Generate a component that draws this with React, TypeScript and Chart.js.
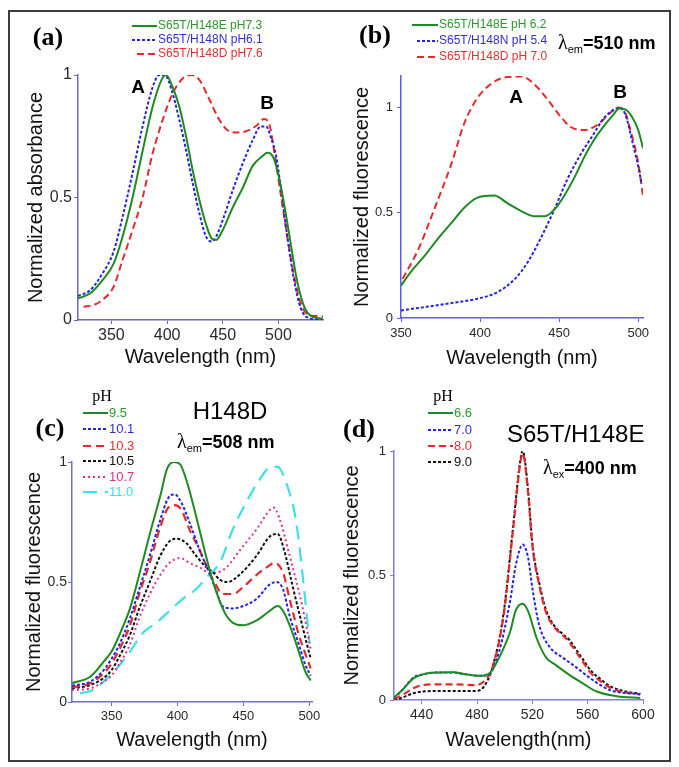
import React, { useEffect, useRef } from "react";
import { Chart, registerables } from "chart.js";
Chart.register(...registerables);

// ---------------- data ----------------
// (a) normalized absorbance
const aX_E = [320,331,342,352,360,369,378,387,395,399,405,411,417,423,429,435,440,444,450,459,468,477,486,490,495,499,504,510,516,522,528,537,540];
const aY_E = [.088,.109,.163,.23,.34,.50,.69,.87,.98,1.0,.95,.87,.75,.61,.49,.39,.333,.327,.367,.46,.54,.63,.67,.683,.667,.61,.50,.34,.177,.068,.02,.007,.005];
const aX_N = [320,331,342,352,360,369,378,387,393,398,404,411,417,423,429,435,440,444,450,459,468,477,484,489,493,498,502,508,514,520,528,540];
const aY_N = [.098,.122,.19,.28,.42,.60,.79,.95,1.0,1.0,.94,.816,.694,.558,.435,.34,.32,.34,.408,.53,.64,.735,.79,.79,.748,.667,.544,.34,.163,.048,.007,0];
const aX_D = [325,334,342,352,360,369,378,387,396,405,414,422,429,438,447,456,465,474,481,487,492,496,501,507,513,519,525,534,540];
const aY_D = [.054,.061,.082,.136,.245,.367,.50,.68,.816,.925,.986,1.0,.98,.90,.816,.77,.765,.776,.796,.82,.796,.694,.544,.367,.204,.082,.027,.016,.014];

// (b) normalized fluorescence, lambda_em = 510 nm
const bX_E = [350,356,365,373,382,390,398,409,417,426,434,441,447,453,460,466,472,478,484,488,492,496,500,503];
const bY_E = [.154,.217,.296,.374,.453,.524,.571,.582,.547,.508,.484,.484,.516,.579,.673,.767,.846,.909,.964,.995,.99,.956,.893,.807];
const bX_N = [350,365,382,398,411,422,430,438,447,455,464,472,478,484,488,492,496,500,502];
const bY_N = [.036,.052,.071,.091,.123,.186,.264,.374,.516,.657,.783,.877,.948,.987,1.0,.964,.846,.72,.64];
const bX_D = [351,361,371,382,390,398,407,415,426,434,443,451,457,466,474,482,487,491,495,500,503];
const bY_D = [.186,.327,.516,.736,.925,1.042,1.113,1.142,1.148,1.113,1.035,.956,.909,.893,.917,.972,1.0,.987,.893,.736,.579];

// (c) H148D, pH series
const cX_95 = [320,334,344,350,356,364,371,379,387,392,397,402,407,412,417,422,427,432,437,442,450,460,470,476,480,485,492,497,501];
const cY_95 = [.078,.106,.168,.21,.28,.39,.53,.70,.86,.97,1.0,.99,.92,.82,.71,.60,.50,.42,.36,.33,.32,.34,.38,.40,.38,.32,.21,.126,.09];
const cX_101 = [320,334,344,350,356,364,371,379,387,393,398,403,409,417,424,429,434,442,450,460,470,475,480,485,492,497,501];
const cY_101 = [.068,.085,.133,.18,.24,.35,.47,.61,.76,.85,.865,.83,.75,.63,.54,.47,.40,.39,.40,.43,.49,.50,.47,.36,.24,.155,.11];
const cX_103 = [320,334,344,350,356,364,371,379,387,393,398,403,409,417,424,429,434,442,450,460,470,473,480,485,492,497,501];
const cY_103 = [.061,.078,.12,.16,.22,.32,.45,.58,.73,.81,.82,.80,.72,.63,.54,.49,.45,.45,.48,.53,.57,.58,.54,.43,.28,.20,.14];
const cX_105 = [320,334,344,350,356,364,371,379,387,394,400,407,414,422,427,432,438,447,460,470,476,481,487,495,501];
const cY_105 = [.057,.071,.10,.133,.19,.28,.39,.50,.61,.67,.68,.66,.61,.56,.54,.51,.50,.53,.61,.69,.70,.63,.49,.31,.18];
const cX_107 = [320,334,344,350,356,364,371,379,387,394,402,409,417,424,429,437,447,460,470,473,477,485,495,501];
const cY_107 = [.05,.057,.085,.11,.16,.24,.35,.45,.53,.58,.60,.58,.56,.54,.54,.56,.63,.72,.80,.81,.77,.61,.39,.22];
const cX_110 = [326,336,344,354,364,374,384,394,404,414,424,432,442,452,462,471,476,482,490,496,500];
const cY_110 = [.036,.05,.085,.14,.21,.29,.33,.38,.43,.47,.53,.58,.72,.83,.925,.98,.98,.92,.75,.47,.25];

// (d) S65T/H148E emission, lambda_ex = 400 nm
const dX_66 = [420,426,434,441,450,463,472,482,489,496,504,508,513,517,523,530,537,547,557,566,581,598];
const dY_66 = [.01,.04,.087,.103,.11,.111,.103,.097,.107,.17,.275,.36,.387,.356,.25,.17,.14,.10,.065,.035,.015,.008];
const dX_70 = [420,426,434,441,450,463,472,482,489,496,504,508,513,517,520,525,533,542,552,562,576,598];
const dY_70 = [.007,.04,.09,.103,.11,.11,.103,.097,.105,.195,.40,.54,.624,.57,.45,.30,.21,.17,.13,.087,.04,.023];
const dX_80 = [420,426,434,441,453,465,479,485,491,499,506,511,513,517,520,525,530,537,542,547,552,557,562,569,576,586,598];
const dY_80 = [.003,.02,.047,.06,.063,.063,.06,.074,.128,.33,.68,.94,.99,.825,.62,.46,.35,.285,.26,.23,.19,.15,.11,.077,.05,.032,.022];
const dX_90 = [420,426,434,441,453,465,479,485,491,499,506,511,513,517,520,525,530,537,542,547,552,557,562,569,576,586,598];
const dY_90 = [0,.01,.027,.034,.036,.036,.036,.054,.128,.34,.69,.95,1.0,.84,.63,.47,.36,.29,.265,.24,.20,.16,.12,.085,.056,.036,.025];

// tick labels
const abcXTicks = [350, 400, 450, 500];
const dXTicks = [440, 480, 520, 560, 600];
const yTicks = [0, 0.5, 1];

// legend labels
const aLabels = ["S65T/H148E pH7.3", "S65T/H148N pH6.1", "S65T/H148D pH7.6"];
const bLabels = ["S65T/H148E pH 6.2", "S65T/H148N pH 5.4", "S65T/H148D pH 7.0"];
const cLabels = ["9.5", "10.1", "10.3", "10.5", "10.7", "11.0"];
const dLabels = ["6.6", "7.0", "8.0", "9.0"];

// ---------------- styles ----------------
const SANS = '"Liberation Sans", Arial, Helvetica, sans-serif';
const SERIF = '"Liberation Serif", "Times New Roman", serif';
const GREEN = "#1e8a22";
const BLUE = "#2424dc";
const RED = "#e52a2e";
const BLACK = "#111111";
const MAGENTA = "#de2f8e";
const CYAN = "#3fe0e4";

type Panel = { left: number; top: number; width: number; height: number; L: number; T: number; R: number; B: number };
const PA: Panel = { left: 24, top: 12, width: 316, height: 357, L: 78, T: 75, R: 323, B: 320 };
const PB: Panel = { left: 350, top: 12, width: 318, height: 358, L: 401, T: 76, R: 643, B: 318 };
const PC: Panel = { left: 22, top: 388, width: 318, height: 364, L: 72, T: 462, R: 312, B: 702 };
const PD: Panel = { left: 340, top: 388, width: 328, height: 364, L: 394, T: 451, R: 643, B: 700 };

const pts = (xs: number[], ys: number[]) => xs.map((x, i) => ({ x, y: ys[i] }));

function ds(label: string, xs: number[], ys: number[], color: string, dash: number[], width = 2) {
  return {
    label,
    data: pts(xs, ys),
    borderColor: color,
    borderDash: dash,
    borderWidth: width,
    pointRadius: 0,
    fill: false,
    cubicInterpolationMode: "monotone" as const,
  };
}

function scale(o: {
  horizontal: boolean; size: number; min: number; max: number; ticks: number[];
  tickFont: number; tickPad: number; color: string; title: string;
}) {
  return {
    type: "linear" as const,
    min: o.min,
    max: o.max,
    afterBuildTicks: (s: any) => { s.ticks = o.ticks.map((v) => ({ value: v })); },
    afterFit: (s: any) => { if (o.horizontal) s.height = o.size; else s.width = o.size; },
    grid: { drawOnChartArea: false, drawTicks: true, tickLength: 4, color: o.color, lineWidth: 1 },
    border: { display: true, color: o.color, width: 1.5 },
    ticks: {
      font: { family: SANS, size: o.tickFont },
      color: "#2a2a2a",
      padding: o.tickPad,
      autoSkip: false,
      maxRotation: 0,
      callback: (v: any) => String(v),
    },
    title: { display: true, text: o.title, font: { family: SANS, size: 20 }, color: "#111", padding: 0 },
  };
}

function txt(ctx: CanvasRenderingContext2D, s: string, x: number, y: number, font: string, color: string, align: CanvasTextAlign = "left") {
  ctx.font = font;
  ctx.fillStyle = color;
  ctx.textAlign = align;
  ctx.textBaseline = "middle";
  ctx.fillText(s, x, y);
}

function legendRow(ctx: CanvasRenderingContext2D, d: any, x1: number, x2: number, y: number, label: string, color: string, size: number) {
  ctx.save();
  ctx.strokeStyle = d.borderColor;
  ctx.lineWidth = d.borderWidth;
  ctx.setLineDash(d.borderDash);
  ctx.beginPath();
  ctx.moveTo(x1, y);
  ctx.lineTo(x2, y);
  ctx.stroke();
  ctx.restore();
  txt(ctx, label, x2 + 1, y, `${size}px ${SANS}`, color);
}

function lambda(ctx: CanvasRenderingContext2D, x: number, y: number, sub: string, rest: string) {
  txt(ctx, "λ", x, y, `20px ${SERIF}`, "#000");
  const w1 = ctx.measureText("λ").width;
  txt(ctx, sub, x + w1, y + 6, `11px ${SANS}`, "#000");
  const w2 = ctx.measureText(sub).width;
  txt(ctx, rest, x + w1 + w2, y, `bold 18px ${SANS}`, "#000");
}

function build(canvas: HTMLCanvasElement, p: Panel, datasets: any[], xs: any, ys: any, draw: (ctx: CanvasRenderingContext2D) => void) {
  const bottom = p.top + p.height;
  return new Chart(canvas, {
    type: "line",
    data: { datasets },
    options: {
      responsive: false,
      animation: false,
      parsing: false as any,
      layout: { padding: { left: 0, bottom: 0, top: p.T - p.top, right: p.left + p.width - p.R } },
      plugins: { legend: { display: false }, tooltip: { enabled: false }, title: { display: false } },
      scales: {
        x: scale({ ...xs, horizontal: true, size: bottom - p.B }),
        y: scale({ ...ys, horizontal: false, size: p.L - p.left }),
      },
    },
    plugins: [
      {
        id: "annot",
        afterDraw: (chart: any) => {
          const ctx = chart.ctx as CanvasRenderingContext2D;
          ctx.save();
          ctx.translate(-p.left, -p.top);
          draw(ctx);
          ctx.restore();
        },
      },
    ],
  } as any);
}

function chartA(canvas: HTMLCanvasElement) {
  const d = [
    ds(aLabels[0], aX_E, aY_E, GREEN, [], 2),
    ds(aLabels[1], aX_N, aY_N, BLUE, [3, 2], 2),
    ds(aLabels[2], aX_D, aY_D, RED, [7, 4], 2),
  ];
  const axisColor = "#6a6ab8";
  return build(canvas, PA, d,
    { min: 320, max: 540, ticks: abcXTicks, tickFont: 16, tickPad: 2, color: axisColor, title: "Wavelength (nm)" },
    { min: 0, max: 1, ticks: yTicks, tickFont: 16, tickPad: 2, color: axisColor, title: "Normalized absorbance" },
    (ctx) => {
      txt(ctx, "(a)", 48, 38, `bold 26px ${SERIF}`, "#000", "center");
      legendRow(ctx, d[0], 132, 157, 26, aLabels[0], "#2a9a2a", 12);
      legendRow(ctx, d[1], 132, 157, 40, aLabels[1], "#3030d0", 12);
      legendRow(ctx, d[2], 137, 157, 54, aLabels[2], "#e03030", 12);
      txt(ctx, "A", 138, 88, `bold 19px ${SANS}`, "#000", "center");
      txt(ctx, "B", 267, 104, `bold 19px ${SANS}`, "#000", "center");
    });
}

function chartB(canvas: HTMLCanvasElement) {
  const d = [
    ds(bLabels[0], bX_E, bY_E, GREEN, [], 2),
    ds(bLabels[1], bX_N, bY_N, BLUE, [3, 2], 2),
    ds(bLabels[2], bX_D, bY_D, RED, [7, 4], 2),
  ];
  const axisColor = "#5d5de6";
  return build(canvas, PB, d,
    { min: 350, max: 503, ticks: abcXTicks, tickFont: 13, tickPad: 4, color: axisColor, title: "Wavelength (nm)" },
    { min: 0, max: 1.15, ticks: yTicks, tickFont: 13, tickPad: 4, color: axisColor, title: "Normalized fluorescence" },
    (ctx) => {
      txt(ctx, "(b)", 375, 36, `bold 26px ${SERIF}`, "#000", "center");
      legendRow(ctx, d[0], 412, 438, 25, bLabels[0], "#2a9a2a", 12);
      legendRow(ctx, d[1], 417, 438, 41, bLabels[1], "#3030d0", 12);
      legendRow(ctx, d[2], 417, 438, 57, bLabels[2], "#e03030", 12);
      lambda(ctx, 558, 44, "em", "=510 nm");
      txt(ctx, "A", 516, 98, `bold 19px ${SANS}`, "#000", "center");
      txt(ctx, "B", 620, 93, `bold 19px ${SANS}`, "#000", "center");
    });
}

function chartC(canvas: HTMLCanvasElement) {
  const d = [
    ds(cLabels[0], cX_95, cY_95, GREEN, [], 2),
    ds(cLabels[1], cX_101, cY_101, BLUE, [3, 2], 2),
    ds(cLabels[2], cX_103, cY_103, RED, [8, 5], 2.2),
    ds(cLabels[3], cX_105, cY_105, BLACK, [3, 2], 2),
    ds(cLabels[4], cX_107, cY_107, MAGENTA, [2, 3], 2),
    ds(cLabels[5], cX_110, cY_110, CYAN, [14, 8], 2.2),
  ];
  const axisColor = "#7070c4";
  const colors = ["#2a9a2a", "#3030d0", "#e03030", "#111", "#e0308e", "#3fdde0"];
  const rows = [413, 429, 446, 461, 477, 492];
  return build(canvas, PC, d,
    { min: 320, max: 502, ticks: abcXTicks, tickFont: 13, tickPad: 3, color: axisColor, title: "Wavelength (nm)" },
    { min: 0, max: 1, ticks: yTicks, tickFont: 14, tickPad: 1, color: axisColor, title: "Normalized fluorescence" },
    (ctx) => {
      txt(ctx, "(c)", 50, 429, `bold 26px ${SERIF}`, "#000", "center");
      txt(ctx, "pH", 102, 397, `16px ${SERIF}`, "#000", "center");
      d.forEach((s, i) => legendRow(ctx, s, 83, 108, rows[i], cLabels[i], colors[i], 13));
      txt(ctx, "H148D", 230, 412, `24px ${SANS}`, "#000", "center");
      lambda(ctx, 177, 443, "em", "=508 nm");
    });
}

function chartD(canvas: HTMLCanvasElement) {
  const d = [
    ds(dLabels[0], dX_66, dY_66, GREEN, [], 2),
    ds(dLabels[1], dX_70, dY_70, BLUE, [3, 2], 2),
    ds(dLabels[2], dX_80, dY_80, RED, [7, 4], 2.2),
    ds(dLabels[3], dX_90, dY_90, BLACK, [3, 2], 2),
  ];
  const axisColor = "#8080c8";
  const colors = ["#2a9a2a", "#3030d0", "#e03030", "#111"];
  const rows = [413, 430, 446, 462];
  return build(canvas, PD, d,
    { min: 420, max: 600, ticks: dXTicks, tickFont: 14, tickPad: 3, color: axisColor, title: "Wavelength(nm)" },
    { min: 0, max: 1, ticks: yTicks, tickFont: 13, tickPad: 4, color: axisColor, title: "Normalized fluorescence" },
    (ctx) => {
      txt(ctx, "(d)", 359, 430, `bold 26px ${SERIF}`, "#000", "center");
      txt(ctx, "pH", 443, 397, `16px ${SERIF}`, "#000", "center");
      d.forEach((s, i) => legendRow(ctx, s, 428, 453, rows[i], dLabels[i], colors[i], 13));
      txt(ctx, "S65T/H148E", 507, 435, `24px ${SANS}`, "#000", "left");
      lambda(ctx, 543, 469, "ex", "=400 nm");
    });
}

const PANELS = [PA, PB, PC, PD];
const BUILDERS = [chartA, chartB, chartC, chartD];

export default function App() {
  const r0 = useRef<HTMLCanvasElement>(null);
  const r1 = useRef<HTMLCanvasElement>(null);
  const r2 = useRef<HTMLCanvasElement>(null);
  const r3 = useRef<HTMLCanvasElement>(null);
  const refs = [r0, r1, r2, r3];

  useEffect(() => {
    const charts = refs.map((r, i) => BUILDERS[i](r.current as HTMLCanvasElement));
    return () => charts.forEach((c) => c.destroy());
  }, []);

  return (
    <div style={{ position: "fixed", left: 0, top: 0, width: 679, height: 767, background: "#fff" }}>
      <div style={{ position: "absolute", left: 8, top: 10, width: 663, height: 752, border: "2px solid #3c3c3c", boxSizing: "border-box" }} />
      {PANELS.map((p, i) => (
        <canvas
          key={i}
          ref={refs[i]}
          width={p.width}
          height={p.height}
          style={{ position: "absolute", left: p.left, top: p.top, width: p.width, height: p.height }}
        />
      ))}
    </div>
  );
}
